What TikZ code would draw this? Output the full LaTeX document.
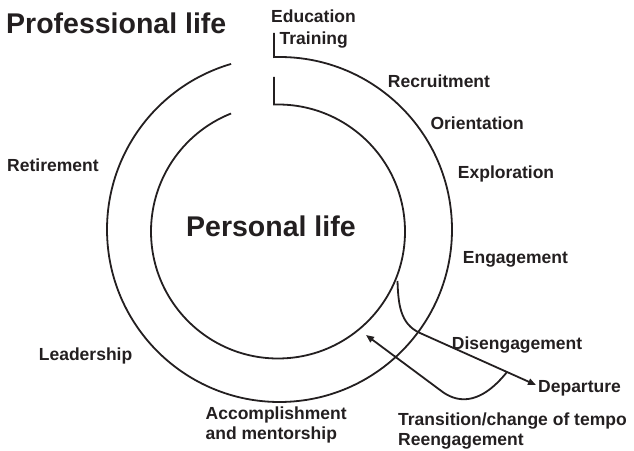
\documentclass[tikz,border=0pt]{standalone}
\usepackage{fontspec}
\setmainfont{Liberation Sans}
\usetikzlibrary{arrows.meta,calc}
\definecolor{ink}{RGB}{35,31,32}

\begin{document}
\begin{tikzpicture}[x=1pt,y=1pt,
  ring/.style={line width=1.8pt,draw=ink},
  flow/.style={ring,-{Triangle[length=8pt,width=6.5pt]}},
  lbl/.style={anchor=base west,inner sep=0pt,text=ink,align=left,
    font=\bfseries\fontsize{17.5}{20}\selectfont},
  big/.style={anchor=base west,inner sep=0pt,text=ink,
    font=\bfseries\fontsize{28.5}{34}\selectfont}]
\useasboundingbox (0,0) rectangle (634,450);
\coordinate (oc) at (279.5,220.5);
\coordinate (ic) at (278,218.5);

% the two rings, open at the top
\draw[ring] (274,417) -- ($(oc)+(91.8:172.5)$)
  arc[start angle=91.8,end angle=-253.7,radius=172.5];
\draw[ring] (274,373) -- ($(ic)+(91.8:127)$)
  arc[start angle=91.8,end angle=-248.3,radius=127];

\node[big] at (6,416.7) (prof) {Professional life};
\node[big] at (186,213.3) (pers) {Personal life};

\node[lbl] at (271,427.3) (edu) {Education};
\node[lbl] at (279.5,405.5) (train) {Training};
\node[lbl] at (387.7,362.7) (recr) {Recruitment};
\node[lbl] at (430.3,320.7) (orient) {Orientation};
\node[lbl] at (457.7,271.7) (explor) {Exploration};
\node[lbl] at (462.7,186.7) (engag) {Engagement};
\node[lbl] at (451.7,100.7) (diseng) {Disengagement};
\node[lbl] at (538,57.7) (depart) {Departure};
\node[lbl] at (398,5) (trans) {Transition/change of tempo\\Reengagement};
\node[lbl] at (205.5,10.7) (accomp) {Accomplishment\\and mentorship};
\node[lbl] at (38.7,90) (lead) {Leadership};
\node[lbl] at (7,278.3) (retire) {Retirement};

% leaving and coming back
\coordinate (exit) at (397.5,169);
\coordinate (bend) at (420,117);
\coordinate (out) at (536,65);
\coordinate (back) at (366,115);
\draw[flow] (exit) to[out=-88,in=156] (bend) -- (out);
\draw[flow] ($(bend)!0.75!(out)$) .. controls (478,42) and (455,48) .. (440,60) -- (back);
\end{tikzpicture}
\end{document}
